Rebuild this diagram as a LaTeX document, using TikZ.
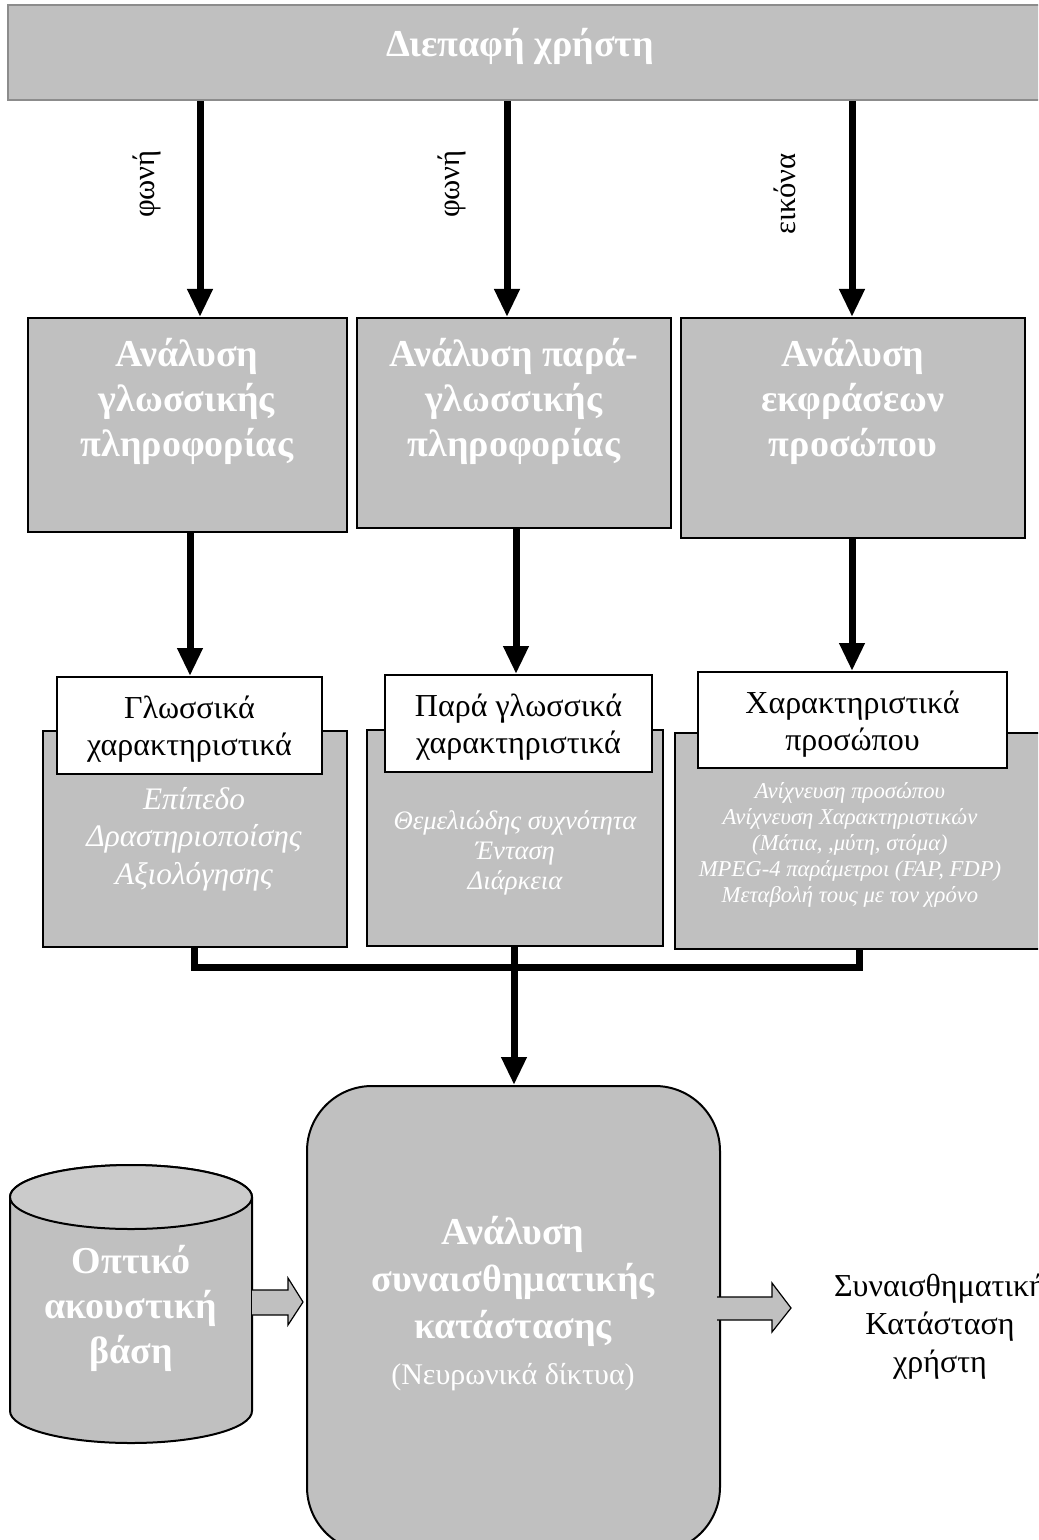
\documentclass[tikz,border=0pt]{standalone}
\usepackage{fontspec}
\setmainfont{Liberation Serif}
\usetikzlibrary{arrows.meta,fit,calc}

\definecolor{boxgray}{HTML}{C0C0C0}
\definecolor{edgegray}{HTML}{8C8C8C}
\definecolor{lidgray}{HTML}{CBCBCB}

\tikzset{
  panel/.style={draw=black, line width=1.5pt, fill=boxgray, inner sep=0pt},
  topbar/.style={draw=edgegray, line width=2.2pt, fill=boxgray, inner sep=0pt},
  labelbox/.style={draw=black, line width=1.5pt, fill=white, inner sep=0pt},
  heavyline/.style={line width=5.25pt, black},
  heavyarrow/.style={heavyline, -{Triangle[length=21pt, width=18pt]}},
  blockarrow/.style={draw=black, line width=0.9pt, fill=boxgray, line join=miter},
  titletext/.style={text=white, align=center, inner sep=0pt,
    font=\fontsize{28.5}{33.75}\selectfont\bfseries},
  labeltext/.style={text=black, align=center, inner sep=0pt,
    font=\fontsize{24}{27.75}\selectfont},
  flowtext/.style={text=black, inner sep=0pt, font=\fontsize{23}{27}\selectfont},
}

\begin{document}
\begin{tikzpicture}[x=0.75pt, y=-0.75pt]
\useasboundingbox (0,0) rectangle (1038,1540);
\begin{scope}
\clip (0,0) rectangle (1038,1540);

% column positions of the connectors
\coordinate (ta) at (200,0);
\coordinate (tb) at (507,0);
\coordinate (tc) at (852,0);
\coordinate (ma) at (190,0);
\coordinate (mb) at (516,0);
\coordinate (mc) at (852,0);
\coordinate (ba) at (194,0);
\coordinate (bc) at (859,0);
\coordinate (join) at (514,967);

% user interface bar
\node[topbar, fit={(8,5) (1045,100)}] (ui) {};
\node[titletext, anchor=base] (uitext) at (520,57) {Διεπαφή χρήστη};

% analysis blocks
\node[panel, fit={(28,318) (347,532)}] (anA) {};
\node[panel, fit={(357,318) (671,528)}] (anB) {};
\node[panel, fit={(681,318) (1025,538)}] (anC) {};
\node[titletext] (anAtext) at (187,401) {Ανάλυση\\γλωσσικής\\πληροφορίας};
\node[titletext] (anBtext) at (514,401) {Ανάλυση παρά-\\γλωσσικής\\πληροφορίας};
\node[titletext] (anCtext) at (853,401) {Ανάλυση\\εκφράσεων\\προσώπου};

% input channels
\draw[heavyarrow] (ui.south -| ta) -- (anA.north -| ta);
\draw[heavyarrow] (ui.south -| tb) -- (anB.north -| tb);
\draw[heavyarrow] (ui.south -| tc) -- (anC.north -| tc);
\node[flowtext, rotate=90] (chA) at (147,184) {φωνή};
\node[flowtext, rotate=90] (chB) at (452,184) {φωνή};
\node[flowtext, rotate=90] (chC) at (785,194) {εικόνα};

% feature panels
\node[panel, fit={(43,731) (347,947)}] (ftA) {};
\node[panel, fit={(367,730) (663,946)}] (ftB) {};
\node[panel, fit={(675,733) (1045,949)}] (ftC) {};

\node[text=white, align=center, inner sep=0pt,
      font=\fontsize{23.5}{28}\selectfont\itshape] (ftAtext) at (194,839)
  {Επίπεδο\\Δραστηριοποίσης\\Αξιολόγησης};
\node[text=white, align=center, inner sep=0pt,
      font=\fontsize{20}{22.5}\selectfont\itshape] (ftBtext) at (515,853)
  {Θεμελιώδης συχνότητα\\Ένταση\\Διάρκεια};
\node[text=white, align=center, inner sep=0pt,
      font=\fontsize{17}{19.5}\selectfont\itshape] (ftCtext) at (850,845)
  {Ανίχνευση προσώπου\\Ανίχνευση Χαρακτηριστικών\\(Μάτια, ,μύτη, στόμα)\\MPEG-4 παράμετροι (FAP, FDP)\\Μεταβολή τους με τον χρόνο};

% feature headings
\node[labelbox, fit={(57,677) (322,774)}] (lbA) {};
\node[labelbox, fit={(385,675) (652,772)}] (lbB) {};
\node[labelbox, fit={(698,672) (1007,768)}] (lbC) {};
\node[labeltext] (lbAtext) at ($(lbA.center)+(0,4)$) {Γλωσσικά\\χαρακτηριστικά};
\node[labeltext] (lbBtext) at ($(lbB.center)+(0,4)$) {Παρά γλωσσικά\\χαρακτηριστικά};
\node[labeltext] (lbCtext) at ($(lbC.center)+(0,4)$) {Χαρακτηριστικά\\προσώπου};

\draw[heavyarrow] (anA.south -| ma) -- (lbA.north -| ma);
\draw[heavyarrow] (anB.south -| mb) -- (lbB.north -| mb);
\draw[heavyarrow] (anC.south -| mc) -- (lbC.north -| mc);

% emotion analysis
\node[panel, rounded corners=48.75pt, fit={(307,1086) (720,1552)}] (emo) {};
\node[text=white, align=center, inner sep=0pt,
      font=\fontsize{28.5}{35}\selectfont\bfseries] (emotext) at (513,1304)
  {Ανάλυση\\συναισθηματικής\\κατάστασης\\
   {\fontsize{22.5}{33}\selectfont\mdseries (Νευρωνικά δίκτυα)}};

% merging the three feature streams
\draw[heavyline] (ftA.south -| ba) |- (join);
\draw[heavyline] (ftC.south -| bc) |- (join);
\draw[heavyarrow] (ftB.south -| join) -- (emo.north -| join);

% audiovisual database
\draw[line width=1.5pt, fill=boxgray] (10,1197) -- (10,1411)
  arc[start angle=180, end angle=0, x radius=121, y radius=32]
  -- (252,1197) arc[start angle=0, end angle=-180, x radius=121, y radius=32] -- cycle;
\draw[line width=1.5pt, fill=lidgray] (131,1197) ellipse [x radius=121, y radius=32];
\node[titletext] (db) at (131,1308) {Οπτικό\\ακουστική\\βάση};

% block arrows
\coordinate (dbR) at (252,1302);
\coordinate (emoR) at (717,1308);
\draw[blockarrow] ($(dbR)+(0,-12)$) -- ($(dbR)+(36,-12)$) -- ($(dbR)+(36,-24)$)
  -- ($(dbR)+(51,0)$) -- ($(dbR)+(36,23)$) -- ($(dbR)+(36,13)$) -- ($(dbR)+(0,13)$);
\draw[blockarrow] ($(emoR)+(0,-11)$) -- ($(emoR)+(55,-11)$) -- ($(emoR)+(55,-25)$)
  -- ($(emoR)+(74,0)$) -- ($(emoR)+(55,24)$) -- ($(emoR)+(55,12)$) -- ($(emoR)+(0,12)$);

\node[labeltext, font=\fontsize{24}{28.5}\selectfont] (state) at (940,1327)
  {Συναισθηματική\\Κατάσταση\\χρήστη};
\end{scope}
\end{tikzpicture}
\end{document}
